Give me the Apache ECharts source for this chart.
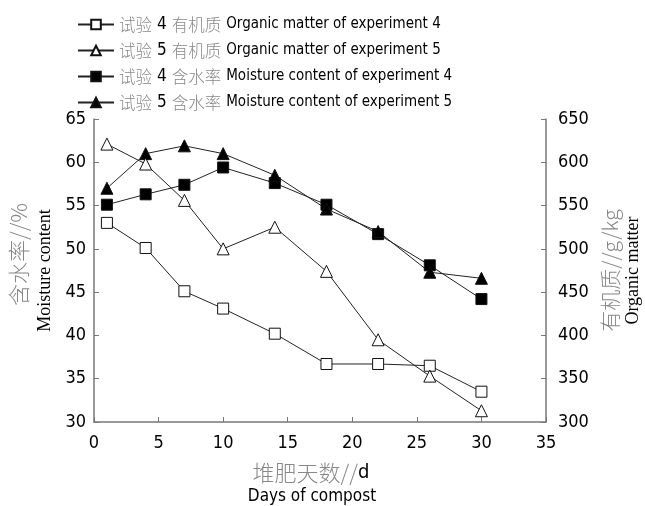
<!DOCTYPE html>
<html lang="zh">
<head>
    <meta charset="utf-8">
    <title>堆肥 有机质 含水率</title>
    <script type="text/javascript" src="https://cdn.jsdelivr.net/npm/echarts@6/dist/echarts.min.js"></script>
    <style>
        html, body { margin: 0; padding: 0; background: #fff; }
        #main { width: 645px; height: 506px; }
    </style>
</head>
<body>
<div id="main"></div>
<script>
    // 数据
    var days = [1, 4, 7, 10, 14, 18, 22, 26, 30];
    var organic4 = [530, 501, 451, 431, 402, 367, 367, 365, 335];
    var organic5 = [621, 598, 556, 500, 525, 474, 395, 353, 313];
    var moisture4 = [55.1, 56.3, 57.4, 59.4, 57.6, 55.1, 51.7, 48.1, 44.2];
    var moisture5 = [57.0, 61.0, 61.9, 61.0, 58.5, 54.6, 52.0, 47.3, 46.6];
    var xTicks = [0, 5, 10, 15, 20, 25, 30, 35];
    var leftTicks = [30, 35, 40, 45, 50, 55, 60, 65];
    var rightTicks = [300, 350, 400, 450, 500, 550, 600, 650];

    var names = [
        ['试验', '4', '有机质', 'Organic matter of experiment 4'],
        ['试验', '5', '有机质', 'Organic matter of experiment 5'],
        ['试验', '4', '含水率', 'Moisture content of experiment 4'],
        ['试验', '5', '含水率', 'Moisture content of experiment 5']
    ];

    var sansN = '"DejaVu Sans Condensed", "Liberation Sans", sans-serif';
    var cjk = '"Noto Sans CJK SC", sans-serif';
    var serif = '"Liberation Serif", "DejaVu Serif", serif';

    function pairs(ys) {
        return days.map(function (d, i) { return [d, ys[i]]; });
    }

    var seriesDefs = [
        { y: organic4, axis: 1, symbol: 'rect', size: 11, fill: '#fff' },
        { y: organic5, axis: 1, symbol: 'triangle', size: 12, fill: '#fff' },
        { y: moisture4, axis: 0, symbol: 'rect', size: 11, fill: '#000' },
        { y: moisture5, axis: 0, symbol: 'triangle', size: 12, fill: '#000' }
    ];

    var series = seriesDefs.map(function (s, i) {
        return {
            name: names[i].join('|'),
            type: 'line',
            yAxisIndex: s.axis,
            data: pairs(s.y),
            symbol: s.symbol,
            symbolSize: s.size,
            showAllSymbol: true,
            lineStyle: { color: '#222', width: 1 },
            itemStyle: { color: s.fill, borderColor: '#111', borderWidth: 1 },
            z: 2 + (s.fill === '#fff' ? 1 : 0)
        };
    });

    var chart = echarts.init(document.getElementById('main'));

    var axisLine = { show: true, lineStyle: { color: '#777', width: 1.5 } };
    var axisTick = { show: true, inside: true, length: 5, lineStyle: { color: '#777', width: 1 } };
    var tickLabel = { color: '#000', fontSize: 18, fontFamily: sansN };

    var option = {
        animation: false,
        grid: { left: 94, right: 99, top: 119, bottom: 84, containLabel: false, outerBoundsMode: 'none' },
        legend: {
            orient: 'vertical',
            left: 72,
            top: 11,
            itemWidth: 36,
            itemHeight: 12,
            itemGap: 9,
            data: series.map(function (s) { return s.name; }),
            formatter: function (n) {
                var p = n.split('|');
                return '{cn|' + p[0] + '}{num|' + p[1] + '}{cn|' + p[2] + '}{en|' + p[3] + '}';
            },
            textStyle: {
                rich: {
                    cn: { color: '#888', fontSize: 16.5, fontFamily: cjk, fontWeight: 300 },
                    num: { color: '#000', fontSize: 17, fontFamily: sansN, padding: [0, 5, 0, 5] },
                    en: { color: '#000', fontSize: 15, fontFamily: sansN, padding: [0, 0, 0, 5] }
                }
            }
        },
        xAxis: {
            type: 'value',
            min: xTicks[0],
            max: xTicks[xTicks.length - 1],
            interval: 5,
            splitLine: { show: false },
            axisLine: axisLine,
            axisTick: axisTick,
            axisLabel: Object.assign({ margin: 12 }, tickLabel),
            name: '{cn|堆肥天数//}{en|d}\n{en2|Days of compost}',
            nameLocation: 'middle',
            nameGap: 39,
            nameTextStyle: {
                rich: {
                    cn: { color: '#888', fontSize: 22, fontFamily: cjk, fontWeight: 300, lineHeight: 24 },
                    en: { color: '#000', fontSize: 20, fontFamily: sansN, lineHeight: 24, padding: [0, 18, 0, 0] },
                    en2: { color: '#000', fontSize: 17, fontFamily: sansN, lineHeight: 24, padding: [0, 16, 0, 0] }
                }
            }
        },
        yAxis: [
            {
                type: 'value',
                min: leftTicks[0],
                max: leftTicks[leftTicks.length - 1],
                interval: 5,
                splitLine: { show: false },
                axisLine: axisLine,
                axisTick: axisTick,
                axisLabel: Object.assign({ margin: 8 }, tickLabel),
                name: '{cn|含水率//%}\n{en|Moisture content}',
                nameLocation: 'middle',
                nameRotate: 90,
                nameGap: 36,
                nameTextStyle: {
                    rich: {
                        cn: { color: '#888', fontSize: 22, fontFamily: cjk, fontWeight: 300, lineHeight: 26, padding: [0, 0, 0, 32] },
                        en: { color: '#000', fontSize: 18, fontFamily: serif, lineHeight: 26 }
                    }
                }
            },
            {
                type: 'value',
                position: 'right',
                min: rightTicks[0],
                max: rightTicks[rightTicks.length - 1],
                interval: 50,
                splitLine: { show: false },
                axisLine: axisLine,
                axisTick: axisTick,
                axisLabel: Object.assign({ margin: 12 }, tickLabel),
                name: '{cn|有机质//g/kg}\n{en|Organic matter}',
                nameLocation: 'middle',
                nameRotate: 90,
                nameGap: 52,
                nameTextStyle: {
                    rich: {
                        cn: { color: '#888', fontSize: 21, fontFamily: cjk, fontWeight: 300, lineHeight: 23 },
                        en: { color: '#000', fontSize: 18, fontFamily: serif, lineHeight: 23 }
                    }
                }
            }
        ],
        series: series
    };

    chart.setOption(option);
</script>
</body>
</html>
